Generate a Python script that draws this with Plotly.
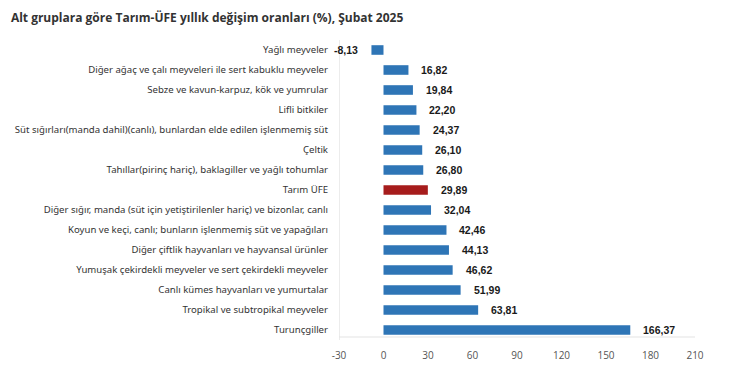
import plotly.graph_objects as go

categories = [
    "Yağlı meyveler",
    "Diğer ağaç ve çalı meyveleri ile sert kabuklu meyveler",
    "Sebze ve kavun-karpuz, kök ve yumrular",
    "Lifli bitkiler",
    "Süt sığırları(manda dahil)(canlı), bunlardan elde edilen işlenmemiş süt",
    "Çeltik",
    "Tahıllar(pirinç hariç), baklagiller ve yağlı tohumlar",
    "Tarım ÜFE",
    "Diğer sığır, manda (süt için yetiştirilenler hariç) ve bizonlar, canlı",
    "Koyun ve keçi, canlı; bunların işlenmemiş süt ve yapağıları",
    "Diğer çiftlik hayvanları ve hayvansal ürünler",
    "Yumuşak çekirdekli meyveler ve sert çekirdekli meyveler",
    "Canlı kümes hayvanları ve yumurtalar",
    "Tropikal ve subtropikal meyveler",
    "Turunçgiller",
]
values = [-8.13, 16.82, 19.84, 22.20, 24.37, 26.10, 26.80, 29.89, 32.04,
          42.46, 44.13, 46.62, 51.99, 63.81, 166.37]
highlight = "Tarım ÜFE"
tick_vals = [-30, 0, 30, 60, 90, 120, 150, 180, 210]

BLUE = "#2E75B6"
RED = "#A61C1C"
colors = [RED if c == highlight else BLUE for c in categories]

fig = go.Figure()
fig.add_trace(go.Bar(
    x=values, y=categories, orientation="h",
    marker=dict(color=colors, line=dict(width=0)),
    hoverinfo="x+y",
))

for c, v in zip(categories, values):
    txt = f"{v:.2f}".replace(".", ",")
    fig.add_annotation(
        x=v, y=c, text=txt, showarrow=False,
        xanchor="left" if v >= 0 else "right",
        xshift=11 if v >= 0 else -11,
        font=dict(family="Liberation Sans, Arial", size=10.5, color="#1a1a1a", weight="bold"),
    )

# page body has an 8px margin, so the figure is sized/offset to compensate
fig.update_layout(
    width=722, height=359,
    margin=dict(l=331, r=35, t=32, b=27, autoexpand=False),
    paper_bgcolor="white", plot_bgcolor="white",
    bargap=0.52,
    showlegend=False,
    title=dict(
        text="<b>Alt gruplara göre Tarım-ÜFE yıllık değişim oranları (%), Şubat 2025</b>",
        x=0.004, xanchor="left", y=0.974, yanchor="middle",
        font=dict(family="Open Sans, Noto Sans", size=12, color="#333333"),
    ),
    xaxis=dict(
        range=[-30, 210], tickvals=tick_vals, ticktext=[str(t) for t in tick_vals],
        showgrid=False, zeroline=False, showline=False, automargin=False,
        tickfont=dict(family="Open Sans, Noto Sans", size=10, color="#555555"),
        ticks="", ticklen=0, ticklabelstandoff=8,
    ),
    yaxis=dict(
        categoryorder="array", categoryarray=categories, autorange="reversed",
        showgrid=False, zeroline=False, showline=False, automargin=False,
        ticks="", ticklabelstandoff=10,
        tickfont=dict(family="Noto Sans", size=9.6, color="#333333"),
    ),
    shapes=[
        dict(type="line", xref="x", yref="paper", x0=-30, x1=-30, y0=0, y1=1,
             line=dict(color="#d9d9d9", width=1)),
        dict(type="line", xref="x", yref="paper", x0=-30, x1=210, y0=0.01, y1=0.01,
             line=dict(color="#e3e3e3", width=1)),
    ],
)

fig.write_html("out.html")
